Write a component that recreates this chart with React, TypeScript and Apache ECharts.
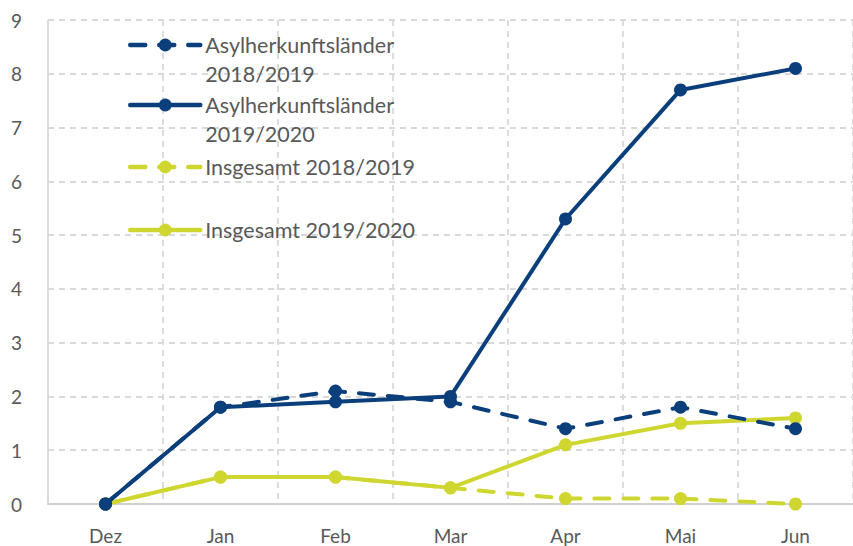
import React, { useEffect, useRef } from "react";
import * as echarts from "echarts";

const months = ["Dez", "Jan", "Feb", "Mar", "Apr", "Mai", "Jun"];
const asyl1819 = [0, 1.8, 2.1, 1.9, 1.4, 1.8, 1.4];
const asyl1920 = [0, 1.8, 1.9, 2.0, 5.3, 7.7, 8.1];
const ges1819 = [0, 0.5, 0.5, 0.3, 0.1, 0.1, 0.0];
const ges1920 = [0, 0.5, 0.5, 0.3, 1.1, 1.5, 1.6];
const names = [
  "Asylherkunftsländer\n2018/2019",
  "Asylherkunftsländer\n2019/2020",
  "Insgesamt 2018/2019",
  "Insgesamt 2019/2020",
];

const BLUE = "#0b3f7c";
const YELLOW = "#cfd630";
const FONT = "Lato, 'Open Sans', sans-serif";

export default function App() {
  const ref = useRef<HTMLDivElement>(null);
  useEffect(() => {
    document.body.style.margin = "0";
    if (!ref.current) return;
    const chart = echarts.init(ref.current, null, { renderer: "svg" });
    const mk = (name: string, data: number[], color: string, dashed: boolean, z: number) => ({
      name,
      type: "line",
      data,
      z,
      symbol: "circle",
      symbolSize: 13,
      itemStyle: { color },
      lineStyle: { color, width: 4, cap: "round", type: dashed ? [15, 14] : "solid" },
    });
    const LH = 29;
    const legendTops = [45 - LH * 1.5, 105 - LH * 1.5, 167 - LH / 2, 230 - LH / 2];
    chart.setOption({
      animation: false,
      textStyle: { fontFamily: FONT },
      legend: names.map((n, i) => ({
        data: [n],
        left: 128,
        top: legendTops[i],
        padding: 0,
        orient: "vertical",
        itemWidth: 70,
        itemHeight: 16,
        itemGap: 0,
        lineStyle: { width: 4.5 },
        formatter: (s: string) => (i < 2 ? "\n" + s : s),
        textStyle: {
          fontSize: 21.5,
          color: "#595959",
          fontFamily: FONT,
          lineHeight: LH,
        },
      })),
      grid: { left: 48, top: 20, width: 815, height: 484 },
      xAxis: {
        type: "category",
        data: months,
        boundaryGap: true,
        axisLine: { show: true, lineStyle: { color: "#d0d0d0", width: 2 } },
        axisTick: { show: false },
        axisLabel: { fontSize: 19, color: "#595959", margin: 22, fontFamily: FONT },
        splitLine: { show: true, lineStyle: { color: "#d9d9d9", type: [6, 5], width: 1.8 } },
      },
      yAxis: {
        type: "value",
        min: 0,
        max: 9,
        interval: 1,
        axisLine: { show: true, lineStyle: { color: "#d9d9d9", type: [6, 5], width: 1.8 } },
        axisTick: { show: false },
        axisLabel: { fontSize: 19, color: "#595959", margin: 26, fontFamily: FONT },
        splitLine: { show: true, lineStyle: { color: "#d9d9d9", type: [6, 5], width: 1.8 } },
      },
      series: [
        mk(names[0], asyl1819, BLUE, true, 3),
        mk(names[1], asyl1920, BLUE, false, 4),
        mk(names[2], ges1819, YELLOW, true, 1),
        mk(names[3], ges1920, YELLOW, false, 2),
      ],
    });
    return () => chart.dispose();
  }, []);
  return <div ref={ref} style={{ width: 853, height: 546 }} />;
}
